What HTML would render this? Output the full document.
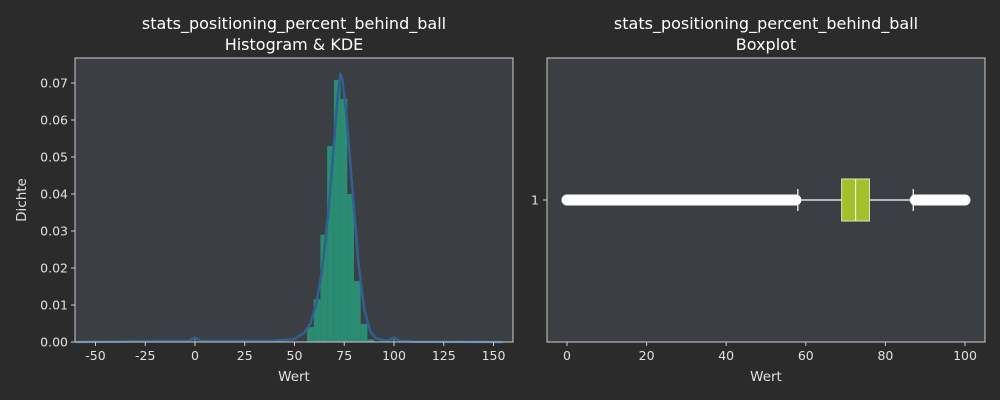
<!DOCTYPE html>
<html><head><meta charset="utf-8"><style>
body{margin:0;background:#2b2b2b;}
svg{display:block;font-family:"DejaVu Sans","Liberation Sans",sans-serif;}
</style></head><body>
<svg id="c" width="1000" height="400" xmlns="http://www.w3.org/2000/svg">
<rect width="1000" height="400" fill="#2b2b2b"/>
<g id="left"></g>
<g id="right"></g>
</svg>
<script>
const histBinStart = 56.3;
const histBinWidth = 3.37;
const histDensity = [0.004, 0.0116, 0.029, 0.053, 0.0708, 0.0657, 0.040, 0.0165, 0.0049, 0.0007];
const extraBins = [-0.5, 99.5];
const extraDensity = [0.0008, 0.0008];
const kdeX = [-60,-10,-3,0,3,10,40,50,55,58,61,64,67,70,72,73,74,76,79,82,85,88,91,95,97,100,103,110,155];
const kdeY = [0,0.0003,0.0003,0.0012,0.0003,0.0003,0.0003,0.0008,0.0025,0.005,0.0105,0.02,0.035,0.055,0.068,0.0725,0.071,0.062,0.042,0.022,0.009,0.003,0.001,0.0004,0.0004,0.0012,0.0003,0.0001,0];
const xTicksL = [-50,-25,0,25,50,75,100,125,150];
const yTicksL = [0,0.01,0.02,0.03,0.04,0.05,0.06,0.07];
const xTicksR = [0,20,40,60,80,100];
const boxStats = [58, 69, 72.5, 76, 87]; // whisker low, q1, median, q3, whisker high
const outlierRanges = [[0,57.5],[87.5,100]];

const NS="http://www.w3.org/2000/svg";
function el(p,t,a,txt){const e=document.createElementNS(NS,t);for(const k in a)e.setAttribute(k,a[k]);if(txt!==undefined)e.textContent=txt;p.appendChild(e);return e;}

// Left panel
const L=document.getElementById('left');
const lx=v=>195+(v-0)*1.99, ly=v=>342-v*3700;
let r=el(L,'rect',{x:75,y:58,width:438,height:284,fill:'#3b3f43'});

histDensity.forEach((d,i)=>{const x0=histBinStart+i*histBinWidth;
 const b=el(L,'rect',{x:lx(x0),y:ly(d),width:lx(x0+histBinWidth)-lx(x0),height:342-ly(d),fill:'#2a8c72'});
 });
extraBins.forEach((x0,i)=>{const b=el(L,'rect',{x:lx(x0),y:ly(extraDensity[i]),width:lx(x0+1)-lx(x0),height:342-ly(extraDensity[i]),fill:'#2a8c72'});
 });
let pts=kdeX.map((x,i)=>{let px=Math.max(75,Math.min(513,lx(x)));return px.toFixed(1)+','+ly(kdeY[i]).toFixed(1)}).join(' ');
let k=el(L,'polyline',{points:pts,fill:'none',stroke:'#2f5f93',"stroke-width":2.5,"stroke-linejoin":"round"});

r=el(L,'rect',{x:75,y:58,width:438,height:284,fill:'none',stroke:'#cccccc',"stroke-width":1});
xTicksL.forEach(t=>{el(L,'line',{x1:lx(t),x2:lx(t),y1:342,y2:346,stroke:'#ccc'});
 const s=el(L,'text',{x:lx(t),y:360,"text-anchor":"middle",fill:'#e0e0e0',"font-size":12.5},String(t));
 });
yTicksL.forEach(t=>{el(L,'line',{x1:71,x2:75,y1:ly(t),y2:ly(t),stroke:'#ccc'});
 const s=el(L,'text',{x:68,y:ly(t)+4.5,"text-anchor":"end",fill:'#e0e0e0',"font-size":12.5},t.toFixed(2));
 });
let t=el(L,'text',{x:294,y:381,"text-anchor":"middle",fill:'#e0e0e0',"font-size":13.5},'Wert');
t=el(L,'text',{x:26,y:200,"text-anchor":"middle",fill:'#e0e0e0',"font-size":13.5,transform:'rotate(-90 26 200)'},'Dichte');
t=el(L,'text',{x:294,y:29,"text-anchor":"middle",fill:'#fff',"font-size":16},'stats_positioning_percent_behind_ball');
t=el(L,'text',{x:294,y:50,"text-anchor":"middle",fill:'#fff',"font-size":16},'Histogram & KDE');

// Right panel
const R=document.getElementById('right');
const rx=v=>567+v*3.98, cy=200;
r=el(R,'rect',{x:547,y:58,width:438,height:284,fill:'#3b3f43'});

outlierRanges.forEach(o=>{const ln=el(R,'line',{x1:rx(o[0]),x2:rx(o[1]),y1:cy,y2:cy,stroke:'#fff',"stroke-width":11,"stroke-linecap":"round"});
 });
el(R,'line',{x1:rx(boxStats[0]),x2:rx(boxStats[1]),y1:cy,y2:cy,stroke:'#fff',"stroke-width":1.2});
el(R,'line',{x1:rx(boxStats[3]),x2:rx(boxStats[4]),y1:cy,y2:cy,stroke:'#fff',"stroke-width":1.2});
[boxStats[0],boxStats[4]].forEach(v=>{const c=el(R,'line',{x1:rx(v),x2:rx(v),y1:189,y2:211,stroke:'#fff',"stroke-width":1.2});});
let bx=el(R,'rect',{x:rx(boxStats[1]),y:179,width:rx(boxStats[3])-rx(boxStats[1]),height:42,fill:'#a4c02c',stroke:'#dde8b0',"stroke-width":1});

let md=el(R,'line',{x1:rx(boxStats[2]),x2:rx(boxStats[2]),y1:179,y2:221,stroke:'#eef3d8',"stroke-width":1.2});

el(R,'rect',{x:547,y:58,width:438,height:284,fill:'none',stroke:'#cccccc',"stroke-width":1});
xTicksR.forEach(v=>{el(R,'line',{x1:rx(v),x2:rx(v),y1:342,y2:346,stroke:'#ccc'});
 const s=el(R,'text',{x:rx(v),y:360,"text-anchor":"middle",fill:'#e0e0e0',"font-size":12.5},String(v));
 });
el(R,'line',{x1:543,x2:547,y1:cy,y2:cy,stroke:'#ccc'});
t=el(R,'text',{x:539,y:cy+4.5,"text-anchor":"end",fill:'#e0e0e0',"font-size":12.5},'1');
t=el(R,'text',{x:766,y:381,"text-anchor":"middle",fill:'#e0e0e0',"font-size":13.5},'Wert');
t=el(R,'text',{x:766,y:29,"text-anchor":"middle",fill:'#fff',"font-size":16},'stats_positioning_percent_behind_ball');
t=el(R,'text',{x:766,y:50,"text-anchor":"middle",fill:'#fff',"font-size":16},'Boxplot');
</script>
</body></html>
